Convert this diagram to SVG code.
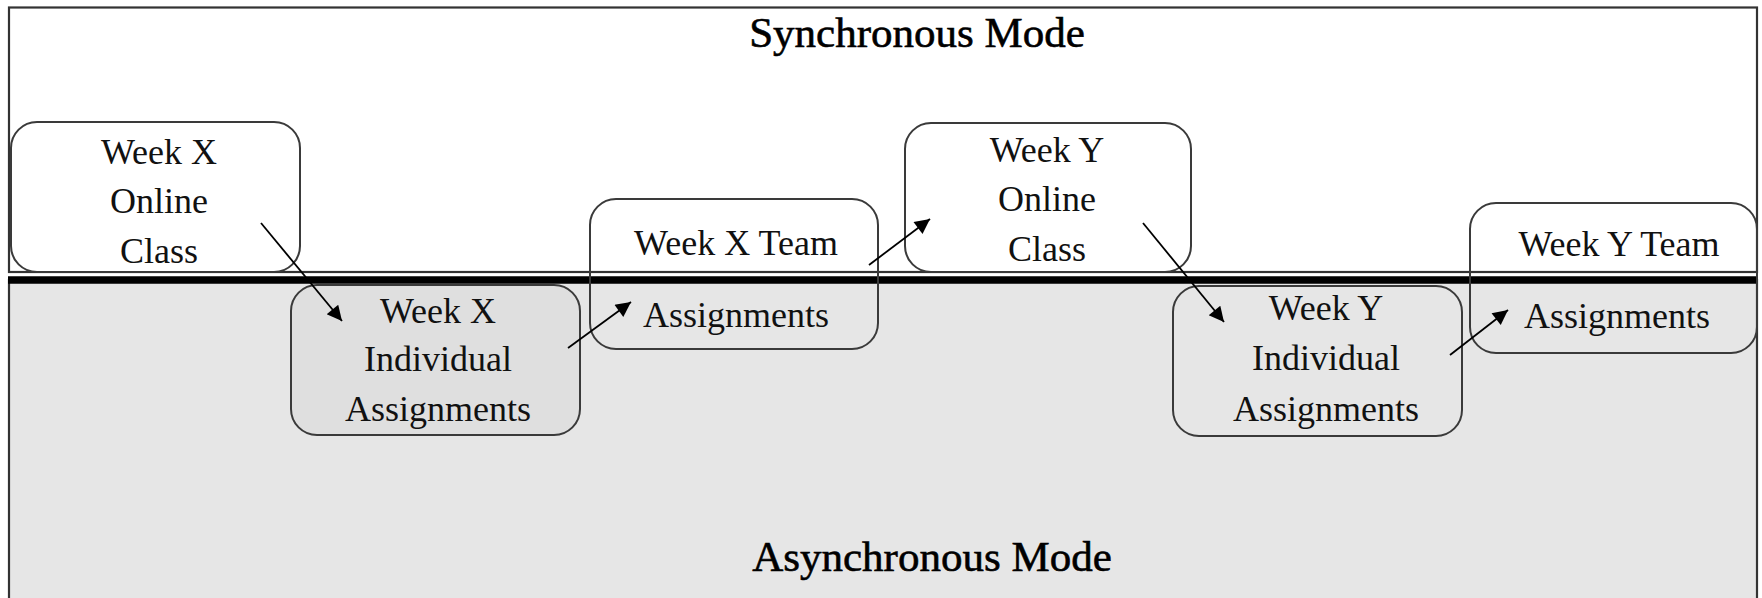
<svg xmlns="http://www.w3.org/2000/svg" width="1762" height="598" viewBox="0 0 1762 598">
<style>
.lbl{font-family:"Liberation Serif","Times New Roman",serif;font-size:36px;fill:#111;text-anchor:middle}
.title{font-family:"Liberation Serif","Times New Roman",serif;font-size:43px;fill:#000;stroke:#000;stroke-width:0.6;text-anchor:middle}
.box{stroke:#3a3a3a;stroke-width:2;fill:none}
.conn{stroke:#000;stroke-width:1.8;fill:none;marker-end:url(#ah)}
</style>
<defs>
<marker id="ah" viewBox="0 0 10 10" refX="10" refY="5" markerWidth="19" markerHeight="15" markerUnits="userSpaceOnUse" orient="auto">
<path d="M0,0 L10,5 L0,10 z" fill="#000"/>
</marker>
</defs>
<rect width="1762" height="598" fill="#ffffff"/>
<g id="sync-region">
<rect x="9" y="7.5" width="1748" height="264.5" fill="#ffffff" stroke="#333" stroke-width="2.2"/>
<text class="title" x="917" y="47">Synchronous Mode</text>
</g>
<g id="async-region">
<rect x="9" y="280" width="1748" height="340" fill="#e6e6e6" stroke="#333" stroke-width="2.2"/>
<line x1="8" y1="280" x2="1758" y2="280" stroke="#000" stroke-width="7.5"/>
<text class="title" x="932" y="571">Asynchronous Mode</text>
</g>
<g id="node-wx-online">
<rect class="box" x="11" y="122" width="289" height="150" rx="26" style="fill:#ffffff"/>
<text class="lbl" x="159" y="164">Week X</text>
<text class="lbl" x="159" y="213">Online</text>
<text class="lbl" x="159" y="263">Class</text>
</g>
<g id="node-wx-indiv">
<rect class="box" x="291" y="285" width="289" height="150" rx="26" style="fill:#dfdfdf"/>
<text class="lbl" x="438" y="323">Week X</text>
<text class="lbl" x="438" y="371">Individual</text>
<text class="lbl" x="438" y="421">Assignments</text>
</g>
<g id="node-wx-team">
<rect class="box" x="590" y="199" width="288" height="150" rx="26"/>
<text class="lbl" x="736" y="255">Week X Team</text>
<text class="lbl" x="736" y="327">Assignments</text>
</g>
<g id="node-wy-online">
<rect class="box" x="905" y="123" width="286" height="149" rx="26" style="fill:#ffffff"/>
<text class="lbl" x="1047" y="162">Week Y</text>
<text class="lbl" x="1047" y="211">Online</text>
<text class="lbl" x="1047" y="261">Class</text>
</g>
<g id="node-wy-indiv">
<rect class="box" x="1173" y="286" width="289" height="150" rx="26"/>
<text class="lbl" x="1326" y="320">Week Y</text>
<text class="lbl" x="1326" y="370">Individual</text>
<text class="lbl" x="1326" y="421">Assignments</text>
</g>
<g id="node-wy-team">
<rect class="box" x="1470" y="203" width="287" height="150" rx="26"/>
<text class="lbl" x="1619" y="256">Week Y Team</text>
<text class="lbl" x="1617" y="328">Assignments</text>
</g>
<g id="connectors">
<line class="conn" x1="261" y1="223" x2="342" y2="321"/>
<line class="conn" x1="568" y1="348" x2="631" y2="302"/>
<line class="conn" x1="869" y1="265" x2="930" y2="219"/>
<line class="conn" x1="1143" y1="223" x2="1224" y2="322"/>
<line class="conn" x1="1450" y1="355" x2="1508" y2="310"/>
</g>
</svg>
